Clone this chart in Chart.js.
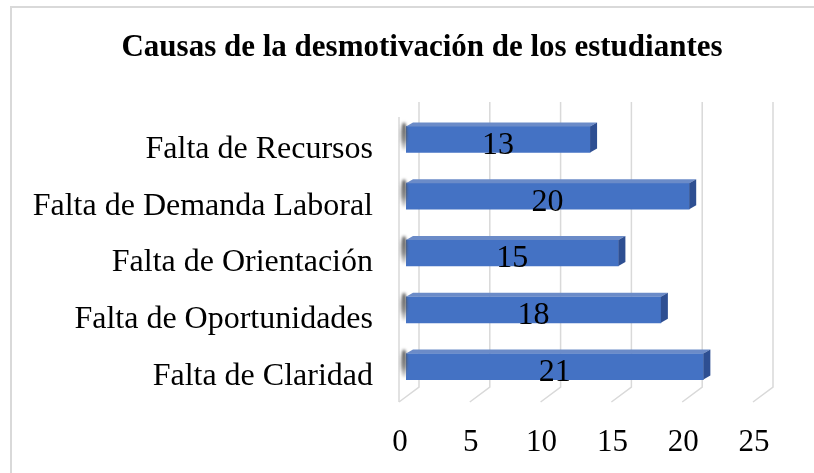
<!DOCTYPE html>
<html>
<head>
<meta charset="utf-8">
<script src="https://cdn.jsdelivr.net/npm/chart.js@4"></script>
<style>
    body { margin: 0; background: #fff; }
    #wrap { width: 814px; height: 473px; position: relative; }
</style>
</head>
<body>
<div id="wrap"><canvas id="causaschart"></canvas></div>
<script>
// data
var categories = ['Falta de Recursos', 'Falta de Demanda Laboral', 'Falta de Orientación', 'Falta de Oportunidades', 'Falta de Claridad'];
var values = [13, 20, 15, 18, 21];
var xTicks = [0, 5, 10, 15, 20, 25];
var chartTitle = 'Causas de la desmotivación de los estudiantes';

var serif = "'Liberation Serif', 'Times New Roman', serif";

// 3d style grid: back wall lines + floor lines + left wall
var grid3d = {
    id: 'grid3d',
    beforeDatasetsDraw: function (chart) {
        var ctx = chart.ctx;
        var area = chart.chartArea;
        var x = chart.scales.x;
        ctx.save();
        ctx.strokeStyle = '#d9d9d9';
        ctx.lineWidth = 1.5;
        xTicks.forEach(function (v) {
            var px = x.getPixelForValue(v);
            ctx.beginPath();
            ctx.moveTo(px + 13, area.top - 9);
            ctx.lineTo(px + 13, area.bottom - 8);
            ctx.lineTo(px - 7, area.bottom + 7);
            ctx.stroke();
        });
        var p0 = x.getPixelForValue(0);
        ctx.beginPath();
        ctx.moveTo(p0 - 7, area.top + 6);
        ctx.lineTo(p0 - 7, area.bottom + 7);
        ctx.stroke();
        ctx.restore();
    }
};

// top face, side face, left shadow and value labels for each bar
var bars3d = {
    id: 'bars3d',
    afterDatasetsDraw: function (chart) {
        var ctx = chart.ctx;
        var meta = chart.getDatasetMeta(0);
        ctx.save();
        meta.data.forEach(function (bar, i) {
            var top = bar.y - bar.height / 2;
            var bottom = bar.y + bar.height / 2;
            var dx = 7, dy = 4;

            // blurred shadow on the left wall
            ctx.save();
            ctx.filter = 'blur(1.5px)';
            var sg = ctx.createLinearGradient(0, top - 5, 0, bottom);
            sg.addColorStop(0, 'rgba(60,60,60,0.9)');
            sg.addColorStop(0.6, 'rgba(90,90,90,0.7)');
            sg.addColorStop(1, 'rgba(140,140,140,0.2)');
            ctx.fillStyle = sg;
            ctx.beginPath();
            ctx.ellipse(bar.base - 2, bar.y - 3, 3, bar.height / 2 + 1, 0, 0, Math.PI * 2);
            ctx.fill();
            ctx.restore();

            // top face
            ctx.fillStyle = '#6b8bc8';
            ctx.beginPath();
            ctx.moveTo(bar.base, top);
            ctx.lineTo(bar.x, top);
            ctx.lineTo(bar.x + dx, top - dy);
            ctx.lineTo(bar.base + dx, top - dy);
            ctx.closePath();
            ctx.fill();

            // side face
            ctx.fillStyle = '#2e4f92';
            ctx.beginPath();
            ctx.moveTo(bar.x, top);
            ctx.lineTo(bar.x + dx, top - dy);
            ctx.lineTo(bar.x + dx, bottom - dy);
            ctx.lineTo(bar.x, bottom);
            ctx.closePath();
            ctx.fill();

            // value label
            ctx.fillStyle = '#000';
            ctx.font = '32px ' + serif;
            ctx.textAlign = 'center';
            ctx.textBaseline = 'middle';
            ctx.fillText(values[i], (bar.base + bar.x) / 2, bar.y + 6);
        });
        ctx.restore();
    }
};

// light frame at top and left, plus the title (centred on the whole frame)
var frame = {
    id: 'frame',
    beforeDraw: function (chart) {
        var ctx = chart.ctx;
        ctx.save();
        ctx.strokeStyle = '#d9d9d9';
        ctx.lineWidth = 2;
        ctx.beginPath();
        ctx.moveTo(11, chart.height + 2);
        ctx.lineTo(11, 7);
        ctx.lineTo(chart.width + 2, 7);
        ctx.stroke();

        ctx.fillStyle = '#000';
        ctx.font = 'bold 31px ' + serif;
        ctx.textAlign = 'center';
        ctx.textBaseline = 'alphabetic';
        ctx.fillText(chartTitle, 422, 56);
        ctx.restore();
    }
};

var ctx = document.getElementById('causaschart').getContext('2d');
var causaschart = new Chart(ctx, {
    type: 'bar',
    data: {
        labels: categories,
        datasets: [{
            label: 'Causas',
            data: values,
            barThickness: 26,
            backgroundColor: function (c) {
                var el = c.element;
                if (!el || el.y === undefined) return '#4472c4';
                var g = c.chart.ctx.createLinearGradient(0, el.y - 13, 0, el.y + 13);
                g.addColorStop(0, '#5d8ade');
                g.addColorStop(0.5, '#4472c4');
                g.addColorStop(1, '#2f5ab0');
                return g;
            },
            borderWidth: 0
        }]
    },
    options: {
        indexAxis: 'y',
        responsive: true,
        maintainAspectRatio: false,
        animation: false,
        layout: { padding: { left: 0, right: 54, top: 111, bottom: 0 } },
        plugins: {
            legend: { display: false },
            tooltip: { enabled: false },
            title: { display: false }
        },
        scales: {
            x: {
                min: 0,
                max: 25,
                afterFit: function (scale) { scale.height = 78; },
                grid: { display: false, drawTicks: false },
                border: { display: false },
                ticks: {
                    stepSize: 5,
                    padding: 29,
                    labelOffset: -6,
                    color: '#000',
                    font: { family: serif, size: 31 }
                }
            },
            y: {
                afterFit: function (scale) { scale.width = 406; },
                grid: { display: false, drawTicks: false },
                border: { display: false },
                ticks: {
                    padding: 33,
                    labelOffset: 10,
                    color: '#000',
                    font: { family: serif, size: 32 }
                }
            }
        }
    },
    plugins: [frame, grid3d, bars3d]
});
</script>
</body>
</html>
